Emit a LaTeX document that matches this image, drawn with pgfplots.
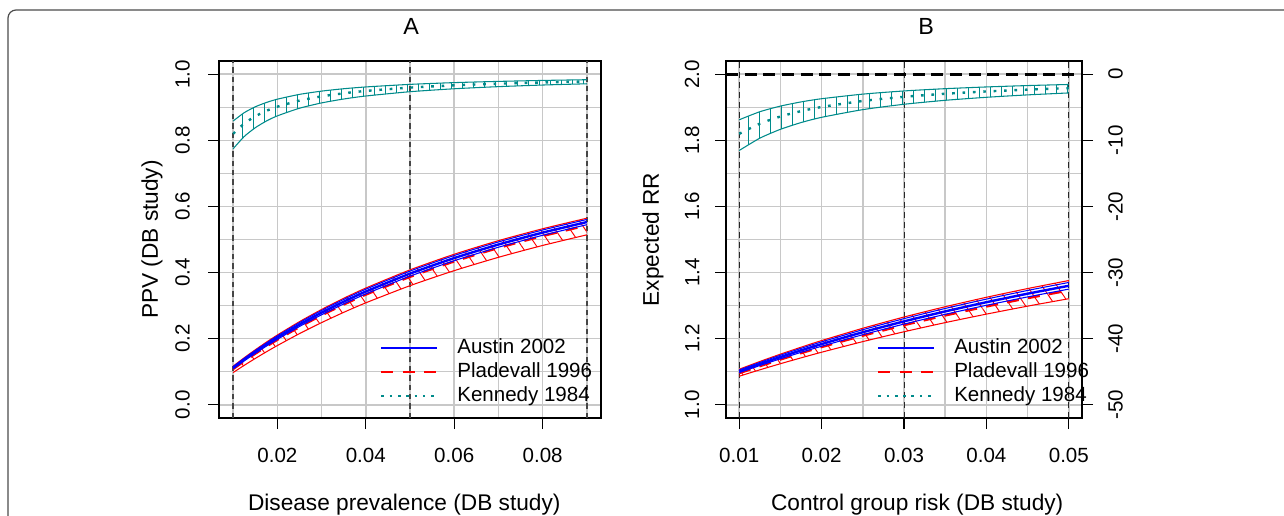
\documentclass[border=0pt]{standalone}
\usepackage{fontspec}
\setmainfont{Liberation Sans}
\usepackage{pgfplots}
\usepackage{pgfplotstable}
\pgfplotsset{compat=1.18}
\usetikzlibrary{patterns.meta}
\definecolor{kteal}{RGB}{0,139,139}
\definecolor{gridgray}{RGB}{200,200,200}
\definecolor{vdash}{RGB}{70,70,70}

% Panel A: disease prevalence vs PPV
\pgfplotstableread{
x ku kc kl ru rc rl bu bc bl
0.01 0.8584 0.8197 0.7745 0.1169 0.1081 0.0975 0.1153 0.1121 0.1089
0.0125 0.8836 0.8507 0.8115 0.1422 0.1319 0.1193 0.1404 0.1366 0.1328
0.015 0.9014 0.8727 0.8381 0.1663 0.1545 0.1401 0.1642 0.1599 0.1556
0.0175 0.9144 0.8891 0.8583 0.1892 0.1761 0.1601 0.1868 0.1821 0.1773
0.02 0.9245 0.9018 0.8740 0.2110 0.1967 0.1792 0.2084 0.2033 0.1980
0.025 0.9390 0.9202 0.8971 0.2514 0.2353 0.2153 0.2486 0.2427 0.2368
0.03 0.9489 0.9330 0.9132 0.2883 0.2707 0.2486 0.2852 0.2788 0.2723
0.035 0.9561 0.9423 0.9250 0.3221 0.3032 0.2796 0.3187 0.3119 0.3050
0.04 0.9615 0.9494 0.9341 0.3531 0.3333 0.3084 0.3496 0.3425 0.3352
0.05 0.9693 0.9595 0.9471 0.4081 0.3871 0.3603 0.4044 0.3968 0.3891
0.06 0.9746 0.9664 0.9560 0.4554 0.4337 0.4058 0.4516 0.4438 0.4358
0.07 0.9783 0.9713 0.9624 0.4965 0.4746 0.4461 0.4926 0.4848 0.4766
0.08 0.9812 0.9751 0.9673 0.5325 0.5106 0.4820 0.5287 0.5208 0.5127
0.09 0.9834 0.9780 0.9711 0.5644 0.5427 0.5141 0.5606 0.5528 0.5448
}\tabA

% band outlines (upper forward, lower backward) for hatching
\pgfplotstableread{
x y
0.01 0.8584
0.0125 0.8836
0.015 0.9014
0.0175 0.9144
0.02 0.9245
0.025 0.9390
0.03 0.9489
0.035 0.9561
0.04 0.9615
0.05 0.9693
0.06 0.9746
0.07 0.9783
0.08 0.9812
0.09 0.9834
0.09 0.9711
0.08 0.9673
0.07 0.9624
0.06 0.9560
0.05 0.9471
0.04 0.9341
0.035 0.9250
0.03 0.9132
0.025 0.8971
0.02 0.8740
0.0175 0.8583
0.015 0.8381
0.0125 0.8115
0.01 0.7745
}\polyAk

\pgfplotstableread{
x y
0.01 0.1169
0.0125 0.1422
0.015 0.1663
0.0175 0.1892
0.02 0.2110
0.025 0.2514
0.03 0.2883
0.035 0.3221
0.04 0.3531
0.05 0.4081
0.06 0.4554
0.07 0.4965
0.08 0.5325
0.09 0.5644
0.09 0.5141
0.08 0.4820
0.07 0.4461
0.06 0.4058
0.05 0.3603
0.04 0.3084
0.035 0.2796
0.03 0.2486
0.025 0.2153
0.02 0.1792
0.0175 0.1601
0.015 0.1401
0.0125 0.1193
0.01 0.0975
}\polyAr

% Panel B: control group risk vs expected RR
\pgfplotstableread{
x ku kc kl ru rc rl bu bc bl
0.01 1.8621 1.8197 1.7692 1.1075 1.0957 1.0864 1.1052 1.1011 1.0972
0.0125 1.8865 1.8503 1.8065 1.1309 1.1168 1.1057 1.1281 1.1233 1.1186
0.015 1.9036 1.8721 1.8333 1.1531 1.1370 1.1242 1.1499 1.1444 1.1390
0.0175 1.9162 1.8883 1.8537 1.1741 1.1563 1.1419 1.1706 1.1645 1.1585
0.02 1.9259 1.9009 1.8696 1.1942 1.1747 1.1590 1.1903 1.1837 1.1771
0.025 1.9398 1.9191 1.8929 1.2315 1.2092 1.1911 1.2271 1.2195 1.2120
0.03 1.9494 1.9317 1.9091 1.2655 1.2410 1.2209 1.2606 1.2523 1.2441
0.035 1.9563 1.9409 1.9211 1.2966 1.2703 1.2486 1.2914 1.2825 1.2737
0.04 1.9615 1.9479 1.9302 1.3252 1.2974 1.2743 1.3197 1.3103 1.3010
0.045 1.9657 1.9534 1.9375 1.3516 1.3226 1.2984 1.3459 1.3361 1.3263
0.05 1.9690 1.9579 1.9434 1.3759 1.3460 1.3209 1.3701 1.3600 1.3499
}\tabB

\pgfplotstableread{
x y
0.01 1.8621
0.0125 1.8865
0.015 1.9036
0.0175 1.9162
0.02 1.9259
0.025 1.9398
0.03 1.9494
0.035 1.9563
0.04 1.9615
0.045 1.9657
0.05 1.9690
0.05 1.9434
0.045 1.9375
0.04 1.9302
0.035 1.9211
0.03 1.9091
0.025 1.8929
0.02 1.8696
0.0175 1.8537
0.015 1.8333
0.0125 1.8065
0.01 1.7692
}\polyBk

\pgfplotstableread{
x y
0.01 1.1075
0.0125 1.1309
0.015 1.1531
0.0175 1.1741
0.02 1.1942
0.025 1.2315
0.03 1.2655
0.035 1.2966
0.04 1.3252
0.045 1.3516
0.05 1.3759
0.05 1.3209
0.045 1.2984
0.04 1.2743
0.035 1.2486
0.03 1.2209
0.025 1.1911
0.02 1.1590
0.0175 1.1419
0.015 1.1242
0.0125 1.1057
0.01 1.0864
}\polyBr

\pgfplotsset{
  myax/.style={
    scale only axis, anchor=south west,
    font=\fontsize{15.4}{18}\selectfont,
    scaled x ticks=false, scaled y ticks=false,
    axis line style={black, line width=0.8pt},
    tick align=outside, tick style={black, line width=0.8pt},
    major tick length=8.25pt, minor tick length=0pt,
    xtick pos=left, ytick pos=left,
    grid=both,
    major grid style={gridgray, line width=1.1pt},
    minor grid style={gridgray, line width=1.1pt},
    xticklabel style={anchor=north, inner sep=0pt},
    yticklabel style={rotate=90, anchor=south, inner sep=0pt},
    xticklabel shift=14pt,
    label style={font=\fontsize{17}{20}\selectfont},
    title style={font=\fontsize{17.5}{20}\selectfont, anchor=center, inner sep=0pt},
    legend cell align=left,
    legend style={draw=none, fill=none, inner sep=0pt, column sep=14pt, row sep=2pt,
      nodes={inner sep=0pt, text height=12pt, text depth=4pt}},
    legend image code/.code={\draw[##1] (0pt,0pt) -- (42pt,0pt);},
  },
  band/.style={smooth, tension=0.4, line width=0.8pt, forget plot},
  cline/.style={smooth, tension=0.4, line width=1.8pt, forget plot},
  tealdot/.style={dash pattern=on 2pt off 5.8pt},
  reddash/.style={dash pattern=on 9pt off 7pt},
  tealhatch/.style={forget plot, draw=none, pattern={Lines[angle=90,distance=8.25pt,line width=0.7pt]}, pattern color=kteal},
  redhatch/.style={forget plot, draw=none, pattern={Lines[angle=-56,distance=9.3pt,line width=0.7pt]}, pattern color=red},
}

\begin{document}
\begin{tikzpicture}
\useasboundingbox (0,0) rectangle (963pt,386.25pt);
\begin{scope}
\clip (0,0) rectangle (963pt,386.25pt);
\draw[color=black!70, line width=0.9pt, rounded corners=6pt]
  (975pt,378.75pt) -- (6pt,378.75pt) -- (6pt,-15pt);
\end{scope}

% ---------------- Panel A ----------------
\begin{axis}[myax,
  at={(164.25pt,72.75pt)}, width=286.5pt, height=267.75pt,
  xmin=0.0068, xmax=0.0932, ymin=-0.04, ymax=1.04,
  xtick={0.02,0.04,0.06,0.08}, xticklabels={0.02,0.04,0.06,0.08},
  minor xtick={0.01,0.03,0.05,0.07,0.09},
  ytick={0,0.2,0.4,0.6,0.8,1.0}, yticklabels={0.0,0.2,0.4,0.6,0.8,1.0},
  minor ytick={0.1,0.3,0.5,0.7,0.9},
  yticklabel shift=13.5pt,
  title={A}, title style={at={(axis description cs:0.503,1.073)}},
  xlabel={Disease prevalence (DB study)},
  xlabel style={at={(axis description cs:0.485,-0.2437)}, anchor=center, inner sep=0pt},
  ylabel={PPV (DB study)},
  ylabel style={at={(axis description cs:-0.1754,0.5)}, anchor=center, inner sep=0pt},
  legend style={at={(axis description cs:0.4215,0.226)}, anchor=north west},
]
\addlegendimage{blue, line width=1.8pt}\addlegendentry{Austin 2002}
\addlegendimage{red, line width=1.8pt, reddash}\addlegendentry{Pladevall 1996}
\addlegendimage{kteal, line width=1.8pt, dash pattern=on 2pt off 4.2pt}\addlegendentry{Kennedy 1984}

\addplot[forget plot, no marks, vdash, line width=1pt, dash pattern=on 4pt off 3pt] coordinates {(0.01,-0.04) (0.01,1.04)};
\addplot[forget plot, no marks, vdash, line width=1pt, dash pattern=on 4pt off 3pt] coordinates {(0.05,-0.04) (0.05,1.04)};
\addplot[forget plot, no marks, vdash, line width=1pt, dash pattern=on 4pt off 3pt] coordinates {(0.09,-0.04) (0.09,1.04)};

% Kennedy
\addplot[tealhatch] table[x=x,y=y]{\polyAk};
\addplot[band, kteal] table[x=x,y=ku]{\tabA};
\addplot[band, kteal] table[x=x,y=kl]{\tabA};
\addplot[cline, kteal, tealdot] table[x=x,y=kc]{\tabA};
% Pladevall
\addplot[redhatch] table[x=x,y=y]{\polyAr};
\addplot[band, red] table[x=x,y=ru]{\tabA};
\addplot[band, red] table[x=x,y=rl]{\tabA};
\addplot[cline, red, reddash] table[x=x,y=rc]{\tabA};
% Austin
\addplot[band, blue] table[x=x,y=bu]{\tabA};
\addplot[band, blue] table[x=x,y=bl]{\tabA};
\addplot[cline, blue] table[x=x,y=bc]{\tabA};
\end{axis}

% ---------------- Panel B ----------------
\begin{axis}[myax,
  at={(544.5pt,72.75pt)}, width=267pt, height=267.75pt,
  xmin=0.0084, xmax=0.0516, ymin=0.96, ymax=2.04,
  xtick={0.01,0.02,0.03,0.04,0.05}, xticklabels={0.01,0.02,0.03,0.04,0.05},
  minor xtick={0.015,0.025,0.035,0.045},
  ytick={1.0,1.2,1.4,1.6,1.8,2.0}, yticklabels={1.0,1.2,1.4,1.6,1.8,2.0},
  minor ytick={1.1,1.3,1.5,1.7,1.9},
  yticklabel shift=11.5pt,
  title={B}, title style={at={(axis description cs:0.562,1.073)}},
  xlabel={Control group risk (DB study)},
  xlabel style={at={(axis description cs:0.537,-0.2437)}, anchor=center, inner sep=0pt},
  ylabel={Expected RR},
  ylabel style={at={(axis description cs:-0.205,0.5)}, anchor=center, inner sep=0pt},
  legend style={at={(axis description cs:0.424,0.226)}, anchor=north west},
]
\addlegendimage{blue, line width=1.8pt}\addlegendentry{Austin 2002}
\addlegendimage{red, line width=1.8pt, reddash}\addlegendentry{Pladevall 1996}
\addlegendimage{kteal, line width=1.8pt, dash pattern=on 2pt off 4.2pt}\addlegendentry{Kennedy 1984}

\addplot[forget plot, no marks, black!85, line width=0.65pt, dash pattern=on 4.5pt off 3pt] coordinates {(0.01,0.96) (0.01,2.04)};
\addplot[forget plot, no marks, black!85, line width=0.65pt, dash pattern=on 4.5pt off 3pt] coordinates {(0.03,0.96) (0.03,2.04)};
\addplot[forget plot, no marks, black!85, line width=0.65pt, dash pattern=on 4.5pt off 3pt] coordinates {(0.05,0.96) (0.05,2.04)};
\addplot[forget plot, no marks, black, line width=2pt, dash pattern=on 9pt off 5pt] coordinates {(0.0084,2) (0.0516,2)};

% Kennedy
\addplot[tealhatch] table[x=x,y=y]{\polyBk};
\addplot[band, kteal] table[x=x,y=ku]{\tabB};
\addplot[band, kteal] table[x=x,y=kl]{\tabB};
\addplot[cline, kteal, tealdot] table[x=x,y=kc]{\tabB};
% Pladevall
\addplot[redhatch] table[x=x,y=y]{\polyBr};
\addplot[band, red] table[x=x,y=ru]{\tabB};
\addplot[band, red] table[x=x,y=rl]{\tabB};
\addplot[cline, red, reddash] table[x=x,y=rc]{\tabB};
% Austin
\addplot[band, blue] table[x=x,y=bu]{\tabB};
\addplot[band, blue] table[x=x,y=bl]{\tabB};
\addplot[cline, blue] table[x=x,y=bc]{\tabB};
\end{axis}

% right-hand axis of panel B
\begin{axis}[
  scale only axis, anchor=south west,
  at={(544.5pt,72.75pt)}, width=267pt, height=267.75pt,
  font=\fontsize{15.4}{18}\selectfont,
  xmin=0.0084, xmax=0.0516, ymin=-52, ymax=2,
  hide x axis, axis y line*=right,
  axis line style={black, line width=0.8pt},
  tick align=outside, tick style={black, line width=0.8pt}, major tick length=8.25pt,
  ytick={-50,-40,-30,-20,-10,0}, yticklabels={-50,-40,-30,-20,-10,0},
  yticklabel style={rotate=90, anchor=north, inner sep=0pt},
  yticklabel shift=11.3pt,
]
\addplot[draw=none, forget plot] coordinates {(0.03,-20)};
\end{axis}
\end{tikzpicture}
\end{document}
